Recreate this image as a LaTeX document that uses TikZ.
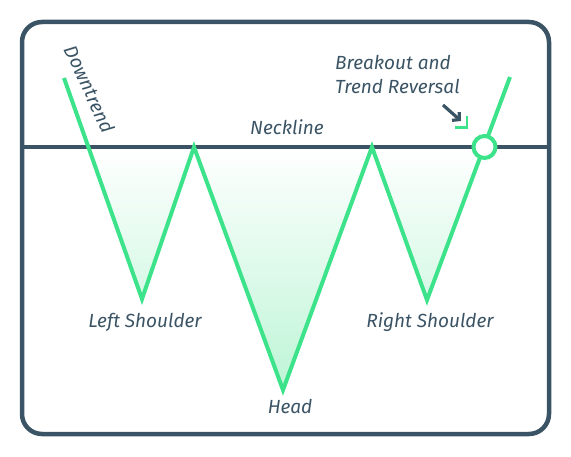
\documentclass[tikz,border=0pt]{standalone}
\usepackage{fontspec}
\setmainfont{Fira Sans}
\usetikzlibrary{arrows.meta,positioning}

\definecolor{slate}{HTML}{3B5465}
\definecolor{mint}{HTML}{3DE38B}
\definecolor{mintfill}{HTML}{BDF5D6}

\begin{document}
\begin{tikzpicture}[
    x=1pt, y=-1pt,
    frame/.style={draw=slate, line width=4.5pt, rounded corners=20pt},
    neck/.style={draw=slate, line width=4.5pt},
    trend/.style={draw=mint, line width=4pt, line join=miter},
    label/.style={font=\itshape\fontsize{19}{24}\selectfont, text=slate, inner sep=1pt}
]
\useasboundingbox (0,0) rectangle (571,457);

% Pattern points
\coordinate (start) at (64,78);
\coordinate (lsh) at (142,299);
\coordinate (pk1) at (194,147);
\coordinate (head) at (283,390);
\coordinate (pk2) at (372,147);
\coordinate (rsh) at (427,300);
\coordinate (end) at (510,77);
\coordinate (in) at (88.4,147);
\coordinate (out) at (484.5,147);

% Shaded area under the neckline
\fill[top color=white, bottom color=mintfill]
    (in) -- (lsh) -- (pk1) -- (head) -- (pk2) -- (rsh) -- (out) -- cycle;

% Frame and neckline
\draw[frame] (22,22) rectangle (549,434);
\draw[neck] (22,147) -- (549,147);

% Price line
\draw[trend] (start) -- (lsh) -- (pk1) -- (head) -- (pk2) -- (rsh) -- (end);
\node[circle, draw=mint, fill=white, line width=4pt, minimum size=22pt, inner sep=0pt] (brk) at (out) {};

% Labels
\node[label, rotate=-65] (down) at (90,89) {Downtrend};
\node[label] (nl) at (287,127) {Neckline};
\node[label] (ls) at (145,322) {Left Shoulder};
\node[label] (hd) at (290,407) {Head};
\node[label] (rs) at (430,322) {Right Shoulder};
\node[label, align=left, anchor=north west] (bo) at (334,54) {Breakout and\\Trend Reversal};

% Breakout pointer
\coordinate (ptr) at (461,121);
\draw[slate, line width=3.2pt, -{Straight Barb[length=5pt, width=11pt]}] (443,105) -- (ptr);
\draw[mint, line width=2.5pt] (455,127.5) -- (467,127.5) -- (467,116);

\end{tikzpicture}
\end{document}
